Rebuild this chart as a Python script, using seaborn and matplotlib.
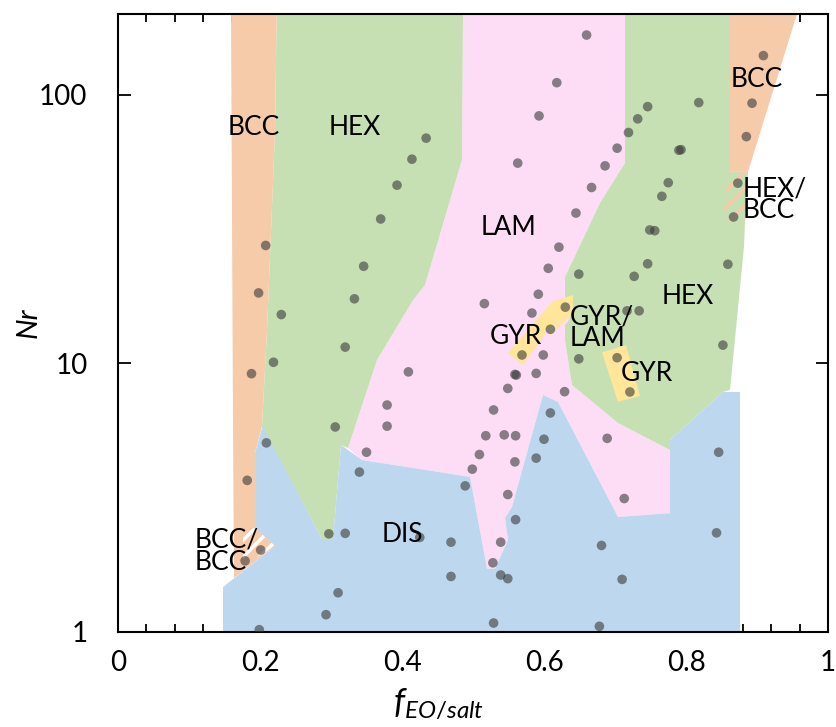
import pandas as pd
import matplotlib
matplotlib.use("Agg")
import matplotlib.pyplot as plt
import seaborn as sns
from matplotlib.ticker import MultipleLocator, NullLocator, FixedLocator, FixedFormatter

# ---- phase boundaries: (f_EO/salt, Nr) ----
lam_f = [0.4859, 0.7141, 0.7141, 0.6789, 0.6296, 0.6296, 0.6394, 0.7042, 0.7775, 0.7775, 0.7042, 0.6197,
         0.5986, 0.5549, 0.5451, 0.5493, 0.5310, 0.5197, 0.4958, 0.3437, 0.3239, 0.3648, 0.4155, 0.4324, 0.4845]
lam_nr = [200, 200, 55.8, 39.6, 21.0, 12.2, 8.32, 6.00, 4.76, 2.77, 2.68, 7.19,
          7.63, 2.92, 2.66, 2.20, 1.72, 1.72, 3.78, 4.37, 4.84, 10.3, 17.2, 19.6, 57.3]

hex_l_f = [0.2235, 0.4859, 0.4845, 0.4324, 0.4155, 0.3648, 0.3239, 0.3141, 0.3028, 0.2873, 0.2028, 0.2099, 0.2211]
hex_l_nr = [200, 200, 57.3, 19.6, 17.2, 10.3, 4.84, 4.97, 2.22, 2.22, 5.83, 13.3, 72.2]

hex_r_f = [0.7141, 0.8620, 0.8620, 0.8859, 0.8817, 0.8620, 0.8521, 0.7775, 0.7775, 0.7042, 0.6394,
           0.6296, 0.6296, 0.6789, 0.7141]
hex_r_nr = [200, 200, 51.7, 51.7, 27.2, 7.97, 7.83, 5.19, 4.76, 6.00, 8.32, 12.2, 21.0, 39.6, 55.8]

bcc_l_f = [0.1592, 0.2235, 0.2211, 0.2099, 0.2028, 0.1930, 0.1930, 0.2211, 0.1634, 0.1620]
bcc_l_nr = [200, 200, 72.2, 13.3, 5.83, 4.64, 2.44, 2.09, 1.59, 5.65]

bcc_r_f = [0.8620, 0.9563, 0.8873, 0.8620]
bcc_r_nr = [200, 200, 51.7, 51.7]

dis_f = [0.1479, 0.1479, 0.2211, 0.1930, 0.1930, 0.2035, 0.2873, 0.3028, 0.3141, 0.3437, 0.4958, 0.5197,
         0.5310, 0.5493, 0.5451, 0.5549, 0.5986, 0.6197, 0.7042, 0.7775, 0.7775, 0.8521, 0.8761, 0.8761]
dis_nr = [1.0, 1.47, 2.09, 2.44, 4.64, 5.85, 2.22, 2.22, 4.97, 4.37, 3.78, 1.72,
          1.72, 2.20, 2.66, 2.92, 7.63, 7.19, 2.68, 2.77, 5.19, 7.83, 7.83, 1.0]

gyr_l_f = [0.5493, 0.6113, 0.6408, 0.6408, 0.6056, 0.5704]
gyr_l_nr = [10.94, 16.95, 18.0, 15.7, 13.3, 9.87]
gyr_r_f = [0.6817, 0.7155, 0.7352, 0.7042]
gyr_r_nr = [11.0, 11.7, 7.57, 7.19]

gyr_lam_f = [0.6056, 0.6408, 0.6338, 0.6113]
gyr_lam_nr = [13.3, 15.7, 14.3, 12.4]
hex_bcc_f = [0.8592, 0.8873, 0.8831, 0.8507]
hex_bcc_nr = [51.7, 51.7, 33.7, 33.7]
bcc_bcc_f = [0.1930, 0.2211, 0.1761, 0.1761]
bcc_bcc_nr = [2.44, 2.09, 1.76, 2.40]

# ---- simulation points ----
pts_f = [0.434, 0.414, 0.393, 0.370, 0.346, 0.333, 0.320, 0.306, 0.208, 0.198, 0.230, 0.219, 0.188,
         0.209, 0.182, 0.297, 0.320, 0.201, 0.179, 0.310, 0.293, 0.199,
         0.660, 0.618, 0.593, 0.563, 0.516, 0.583, 0.630, 0.609, 0.569, 0.599, 0.559, 0.589, 0.549,
         0.529, 0.518, 0.544, 0.560, 0.509, 0.499, 0.489, 0.549, 0.560, 0.539, 0.528, 0.539, 0.549,
         0.529, 0.469, 0.469, 0.425, 0.409, 0.379, 0.379, 0.350, 0.340, 0.609, 0.600, 0.589, 0.559,
         0.629, 0.649, 0.649, 0.645, 0.621, 0.606, 0.592, 0.561,
         0.667, 0.686, 0.703, 0.719, 0.732, 0.746, 0.818, 0.790, 0.793, 0.775, 0.766, 0.749, 0.756,
         0.746, 0.727, 0.859, 0.717, 0.734, 0.852, 0.703, 0.721, 0.689, 0.846, 0.713, 0.843, 0.681,
         0.710, 0.678, 0.909, 0.893, 0.885, 0.873, 0.867]
pts_nr = [69.0, 57.6, 46.1, 34.5, 23.0, 17.4, 11.5, 5.80, 27.5, 18.3, 15.2, 10.1, 9.16,
          5.06, 3.67, 2.32, 2.33, 2.02, 1.84, 1.40, 1.16, 1.02,
          167, 111, 83.5, 55.7, 16.7, 15.4, 16.2, 13.4, 10.75, 10.75, 9.10, 9.18, 8.07,
          6.71, 5.38, 5.42, 5.38, 4.58, 4.04, 3.50, 3.25, 2.62, 2.16, 1.81, 1.63, 1.58,
          1.08, 2.16, 1.61, 2.25, 9.30, 7.00, 5.84, 4.67, 3.94, 6.54, 5.22, 4.44, 4.30,
          7.85, 10.4, 21.5, 36.3, 27.1, 22.6, 18.1, 9.05,
          45.2, 54.4, 63.3, 72.4, 81.4, 90.4, 93.6, 62.2, 62.5, 47.1, 41.9, 31.4, 31.2,
          23.5, 21.1, 23.4, 15.7, 15.7, 11.7, 10.5, 7.83, 5.26, 4.67, 3.14, 2.34, 2.10,
          1.57, 1.05, 140, 93.1, 69.9, 46.9, 35.1]

labels = ["BCC", "HEX", "LAM", "GYR", "GYR/\nLAM", "GYR", "HEX", "BCC", "HEX/\nBCC", "DIS", "BCC/\nBCC"]
label_f = [0.1915, 0.3338, 0.5493, 0.5606, 0.6366, 0.7451, 0.8028, 0.9000, 0.8803, 0.4000, 0.1085]
label_nr = [75.4, 75.4, 32.2, 12.6, 13.6, 9.14, 17.7, 113.7, 40.6, 2.30, 2.00]
label_ha = ["center"] * 4 + ["left"] + ["center"] * 3 + ["left", "center", "left"]

xtick_vals = [0, 0.2, 0.4, 0.6, 0.8, 1.0]
xtick_text = ["0", "0.2", "0.4", "0.6", "0.8", "1"]
ytick_vals = [1, 10, 100]
ytick_text = ["1", "10", "100"]

c_orange = "#F5CBA9"
c_green = "#C6E0B4"
c_pink = "#FCDDF5"
c_blue = "#BDD7EE"
c_yellow = "#FFE699"

sns.set_style("ticks")
plt.rcParams["font.family"] = ["Lato", "DejaVu Sans"]
plt.rcParams["mathtext.fontset"] = "custom"
plt.rcParams["mathtext.it"] = "Lato:italic"
plt.rcParams["mathtext.rm"] = "Lato"
plt.rcParams["hatch.linewidth"] = 2.5
plt.rcParams["text.color"] = "black"
plt.rcParams["axes.labelcolor"] = "black"
plt.rcParams["xtick.labelcolor"] = "black"
plt.rcParams["ytick.labelcolor"] = "black"

fig = plt.figure(figsize=(8.36, 7.27), dpi=100)
ax = fig.add_axes([118 / 836, 1 - 632 / 727, 710 / 836, 618 / 727])
ax.set_yscale("log")

ax.fill(lam_f, lam_nr, color=c_pink, lw=0, zorder=1)
ax.fill(hex_l_f, hex_l_nr, color=c_green, lw=0, zorder=1)
ax.fill(hex_r_f, hex_r_nr, color=c_green, lw=0, zorder=1)
ax.fill(bcc_l_f, bcc_l_nr, color=c_orange, lw=0, zorder=1)
ax.fill(bcc_r_f, bcc_r_nr, color=c_orange, lw=0, zorder=1)
ax.fill(dis_f, dis_nr, color=c_blue, lw=0, zorder=2)
ax.fill(gyr_l_f, gyr_l_nr, color=c_yellow, lw=0, zorder=2)
ax.fill(gyr_r_f, gyr_r_nr, color=c_yellow, lw=0, zorder=2)
ax.fill(gyr_lam_f, gyr_lam_nr, facecolor=c_pink, edgecolor=c_yellow, hatch="//", lw=0, zorder=2)
ax.fill(hex_bcc_f, hex_bcc_nr, facecolor=c_green, edgecolor=c_orange, hatch="//", lw=0, zorder=2)
ax.fill(bcc_bcc_f, bcc_bcc_nr, facecolor=c_orange, edgecolor="white", hatch="//", lw=0, zorder=2)

pts = pd.DataFrame({"f": pts_f, "Nr": pts_nr})
sns.scatterplot(data=pts, x="f", y="Nr", ax=ax, color="#3a3a3a", alpha=0.6,
                s=48, edgecolor="none", zorder=3)

for t, x, y, ha in zip(labels, label_f, label_nr, label_ha):
    ax.text(x, y, t, ha=ha, va="center", fontsize=19, linespacing=0.85, zorder=4)

ax.set_xlim(0, 1)
ax.set_ylim(1, 200)
ax.xaxis.set_major_locator(FixedLocator(xtick_vals))
ax.xaxis.set_major_formatter(FixedFormatter(xtick_text))
ax.xaxis.set_minor_locator(MultipleLocator(0.04))
ax.yaxis.set_major_locator(FixedLocator(ytick_vals))
ax.yaxis.set_major_formatter(FixedFormatter(ytick_text))
ax.yaxis.set_minor_locator(NullLocator())
ax.tick_params(axis="both", which="both", direction="in", top=True, right=True,
               width=1.3, color="black", labelsize=20)
ax.tick_params(axis="x", which="major", length=9, pad=13)
ax.tick_params(axis="x", which="minor", length=6)
ax.tick_params(axis="y", which="major", length=9, pad=22)
for s in ax.spines.values():
    s.set_linewidth(1.5)
    s.set_color("black")

ax.set_xlabel("$f_{EO/salt}$", fontsize=25)
ax.xaxis.set_label_coords(0.451, -0.088)
ax.set_ylabel("Nr", fontsize=21, style="italic")
ax.yaxis.set_label_coords(-0.108, 0.5)

fig.savefig("out.png", dpi=100)
